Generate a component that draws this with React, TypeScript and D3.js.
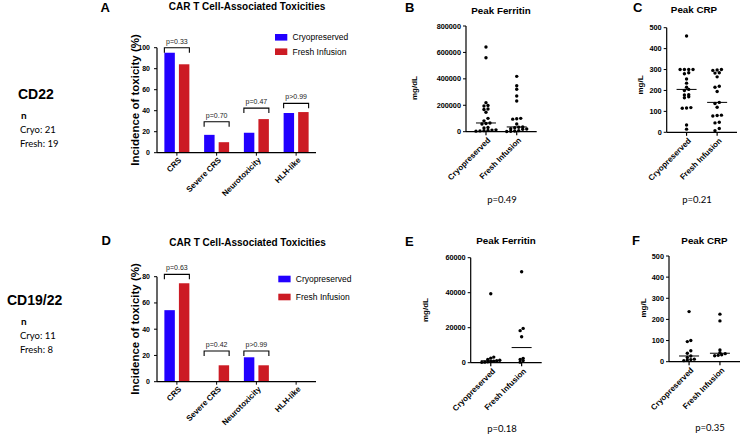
import React from "react";
import * as d3 from "d3";

const FONT = "'Liberation Sans', Arial, sans-serif";
const FONT2 = "Lato, 'Open Sans', sans-serif";
const BLUE = "#2200ff";
const RED = "#cc1b24";

// ---------- data ----------
const toxCategories = ["CRS", "Severe CRS", "Neurotoxicity", "HLH-like"];
const groupNames = ["Cryopreserved", "Fresh Infusion"];

const cd22ToxCryo = [95.2, 17, 19, 37.8];
const cd22ToxFresh = [84.2, 10, 32, 38.7];
const cd22PLabels = ["p=0.33", "p=0.70", "p=0.47", "p>0.99"];
const cd22PLevels = [100, 29.5, 42.5, 47];

const cd1922ToxCryo = [54.5, 0, 18.6, 0];
const cd1922ToxFresh = [75, 12.5, 12.5, 0];
const cd1922PLabels = ["p=0.63", "p=0.42", "p>0.99", ""];
const cd1922PLevels = [81.8, 23.4, 23.4, NaN];

const cd22FerritinCryo = [641000, 560000, 220000, 198000, 195000, 172000, 168000, 147000, 101000, 82000, 66000, 62000, 58000, 32000, 28000, 14000, 12000, 10000, 8000, 6000, 4000];
const cd22FerritinFresh = [419000, 348000, 321000, 270000, 232000, 101000, 98000, 95000, 58000, 36000, 34000, 30000, 22000, 20000, 18000, 8000, 5000, 3000, 2000];
const cd22CrpCryo = [460, 300, 300, 300, 300, 285, 280, 255, 235, 215, 205, 200, 180, 178, 170, 165, 118, 116, 115, 35, 15];
const cd22CrpFresh = [300, 298, 296, 285, 283, 265, 220, 215, 195, 143, 138, 120, 82, 80, 78, 48, 45, 18, 8];

const cd1922FerritinCryo = [39400, 3200, 2600, 1800, 1400, 1100, 900, 700, 500, 300, 200];
const cd1922FerritinFresh = [52000, 19600, 18300, 14800, 2500, 1800, 1200, 300];
const cd1922CrpCryo = [237, 100, 95, 52, 40, 27, 20, 12, 10, 8, 5];
const cd1922CrpFresh = [225, 193, 55, 42, 38, 33, 30, 28];

const pCd22 = ["p=0.49", "p=0.21"];
const pCd1922 = ["p=0.18", "p=0.35"];

// ---------- layouts ----------
type BarCfg = {
  x0: number; x1: number; yTop: number; yBot: number; max: number; step: number;
  letter: string; letterPos: [number, number]; titlePos: [number, number];
  legendX: number; legendY: [number, number]; ylabelPos: [number, number];
};

type ScatCfg = {
  x0: number; x1: number; yTop: number; yBot: number; max: number; step: number;
  letter: string; letterPos: [number, number]; title: string; titlePos: [number, number];
  ylabel: string; ylabelPos: [number, number]; pPos: [number, number]; dotStep: number;
};

const layoutA: BarCfg = { x0: 157, x1: 316, yTop: 47.7, yBot: 152.7, max: 100, step: 20, letter: "A", letterPos: [100.5, 11.7], titlePos: [247, 10], legendX: 275, legendY: [37.3, 51.7], ylabelPos: [139, 100] };
const layoutD: BarCfg = { x0: 157, x1: 316, yTop: 276.7, yBot: 381.7, max: 80, step: 20, letter: "D", letterPos: [101.5, 245], titlePos: [247.5, 245.5], legendX: 278.3, legendY: [279, 297], ylabelPos: [139, 329] };

const layoutB: ScatCfg = { x0: 466, x1: 536.7, yTop: 26, yBot: 131.7, max: 800000, step: 200000, letter: "B", letterPos: [405, 11.7], title: "Peak Ferritin", titlePos: [501, 13.5], ylabel: "mg/dL", ylabelPos: [417, 88], pPos: [502, 203], dotStep: 4 };
const layoutC: ScatCfg = { x0: 666.7, x1: 737, yTop: 27.7, yBot: 132.3, max: 500, step: 100, letter: "C", letterPos: [633, 11.7], title: "Peak CRP", titlePos: [694, 13.3], ylabel: "mg/L", ylabelPos: [642.5, 85], pPos: [697, 203], dotStep: 4.3 };
const layoutE: ScatCfg = { x0: 470.7, x1: 541.7, yTop: 257.7, yBot: 362.7, max: 60000, step: 20000, letter: "E", letterPos: [405, 245.5], title: "Peak Ferritin", titlePos: [506, 244.3], ylabel: "mg/dL", ylabelPos: [428, 310], pPos: [502, 431.5], dotStep: 3 };
const layoutF: ScatCfg = { x0: 669, x1: 740, yTop: 256, yBot: 361.7, max: 500, step: 100, letter: "F", letterPos: [632, 245], title: "Peak CRP", titlePos: [704.5, 244], ylabel: "mg/L", ylabelPos: [646, 308], pPos: [710, 430.5], dotStep: 3.5 };

// ---------- helpers ----------
function swarm(values: number[], y: (v: number) => number, cx: number, step: number, thresh = 2.6) {
  const pts = values.map((v) => ({ v, py: y(v) })).sort((a, b) => b.py - a.py);
  const out: { v: number; py: number; px: number }[] = [];
  let group: { v: number; py: number }[] = [];
  const flush = () => {
    const k = group.length;
    group.forEach((p, i) => out.push({ ...p, px: cx + (i - (k - 1) / 2) * step }));
    group = [];
  };
  for (const p of pts) {
    if (group.length && Math.abs(p.py - group[0].py) > thresh) flush();
    group.push(p);
  }
  flush();
  return out;
}

function BarPanel({ cfg, cryo, fresh, pLabels, pLevels }: { cfg: BarCfg; cryo: number[]; fresh: number[]; pLabels: string[]; pLevels: number[] }) {
  const x = d3.scaleBand<string>().domain(toxCategories).range([cfg.x0, cfg.x1]);
  const sub = d3.scaleBand<string>().domain(groupNames).range([-12.5, 12.5]).paddingInner(0.28);
  const y = d3.scaleLinear().domain([0, cfg.max]).range([cfg.yBot, cfg.yTop]);
  const ticks = d3.range(0, cfg.max + 0.001, cfg.step);
  const series = [cryo, fresh];
  const colors = [BLUE, RED];
  return (
    <g>
      <text x={cfg.letterPos[0]} y={cfg.letterPos[1]} fontFamily={FONT} fontWeight="bold" fontSize={13}>{cfg.letter}</text>
      <text x={cfg.titlePos[0]} y={cfg.titlePos[1]} fontFamily={FONT} fontWeight="bold" fontSize={10} textAnchor="middle">CAR T Cell-Associated Toxicities</text>
      <text transform={`translate(${cfg.ylabelPos[0]},${cfg.ylabelPos[1]}) rotate(-90)`} fontFamily={FONT} fontWeight="bold" fontSize={11.5} textAnchor="middle">Incidence of toxicity (%)</text>
      {toxCategories.map((c, i) => {
        const cx = (x(c) as number) + x.bandwidth() / 2;
        return (
          <g key={c}>
            {series.map((s, gi) => s[i] > 0 ? (
              <rect key={gi} x={cx + (sub(groupNames[gi]) as number)} width={sub.bandwidth()} y={y(s[i])} height={cfg.yBot - y(s[i])} fill={colors[gi]} />
            ) : null)}
            {pLabels[i] ? (() => {
              const yb = y(pLevels[i]);
              const l = cx + (sub(groupNames[0]) as number);
              const r = cx + (sub(groupNames[1]) as number) + sub.bandwidth();
              return (
                <g>
                  <path d={`M${l},${yb + 5}V${yb}H${r}V${yb + 5}`} fill="none" stroke="#000" strokeWidth={1.1} />
                  <text x={(l + r) / 2} y={yb - 4} fontFamily={FONT} fontSize={7} fill="#222" textAnchor="middle">{pLabels[i]}</text>
                </g>
              );
            })() : null}
            <line x1={cx} x2={cx} y1={cfg.yBot} y2={cfg.yBot + 3} stroke="#000" strokeWidth={1} />
            <text transform={`translate(${cx + 3},${cfg.yBot + 6}) rotate(-45)`} dy="0.35em" fontFamily={FONT} fontWeight="bold" fontSize={8} textAnchor="end">{c}</text>
          </g>
        );
      })}
      <line x1={cfg.x0} x2={cfg.x0} y1={cfg.yTop} y2={cfg.yBot} stroke="#000" strokeWidth={1.2} />
      <line x1={cfg.x0} x2={cfg.x1} y1={cfg.yBot} y2={cfg.yBot} stroke="#000" strokeWidth={1.2} />
      {ticks.map((t) => (
        <g key={t}>
          <line x1={cfg.x0 - 3} x2={cfg.x0} y1={y(t)} y2={y(t)} stroke="#000" strokeWidth={1} />
          <text x={cfg.x0 - 7} y={y(t)} dy="0.35em" fontFamily={FONT} fontWeight="bold" fontSize={7} textAnchor="end">{t}</text>
        </g>
      ))}
      {groupNames.map((g, gi) => (
        <g key={g}>
          <rect x={cfg.legendX} y={cfg.legendY[gi] - 3.3} width={12.3} height={6.6} fill={colors[gi]} />
          <text x={cfg.legendX + 17.5} y={cfg.legendY[gi]} dy="0.35em" fontFamily={FONT} fontSize={8.5}>{g}</text>
        </g>
      ))}
    </g>
  );
}

function ScatterPanel({ cfg, cryo, fresh, pText }: { cfg: ScatCfg; cryo: number[]; fresh: number[]; pText: string }) {
  const x = d3.scalePoint<string>().domain(groupNames).range([cfg.x0, cfg.x1]).padding(0.65);
  const y = d3.scaleLinear().domain([0, cfg.max]).range([cfg.yBot, cfg.yTop]);
  const ticks = d3.range(0, cfg.max + 0.001, cfg.step);
  const series = [cryo, fresh];
  return (
    <g>
      <text x={cfg.letterPos[0]} y={cfg.letterPos[1]} fontFamily={FONT} fontWeight="bold" fontSize={13}>{cfg.letter}</text>
      <text x={cfg.titlePos[0]} y={cfg.titlePos[1]} fontFamily={FONT} fontWeight="bold" fontSize={9.8} textAnchor="middle">{cfg.title}</text>
      <text transform={`translate(${cfg.ylabelPos[0]},${cfg.ylabelPos[1]}) rotate(-90)`} fontFamily={FONT} fontWeight="bold" fontSize={8} textAnchor="middle">{cfg.ylabel}</text>
      <line x1={cfg.x0} x2={cfg.x0} y1={cfg.yTop} y2={cfg.yBot} stroke="#000" strokeWidth={1.2} />
      <line x1={cfg.x0} x2={cfg.x1} y1={cfg.yBot} y2={cfg.yBot} stroke="#000" strokeWidth={1.2} />
      {ticks.map((t) => (
        <g key={t}>
          <line x1={cfg.x0 - 3} x2={cfg.x0} y1={y(t)} y2={y(t)} stroke="#000" strokeWidth={1} />
          <text x={cfg.x0 - 5} y={y(t)} dy="0.35em" fontFamily={FONT} fontWeight="bold" fontSize={7.3} textAnchor="end">{t}</text>
        </g>
      ))}
      {groupNames.map((g, gi) => {
        const cx = x(g) as number;
        const pts = swarm(series[gi], y, cx, cfg.dotStep);
        const med = d3.median(series[gi]) as number;
        return (
          <g key={g}>
            <line x1={cx} x2={cx} y1={cfg.yBot} y2={cfg.yBot + 3.5} stroke="#000" strokeWidth={1.2} />
            {pts.map((p, i) => <circle key={i} cx={p.px} cy={p.py} r={1.7} fill="#000" />)}
            <line x1={cx - 10} x2={cx + 10} y1={y(med)} y2={y(med)} stroke="#000" strokeWidth={1} />
            <text transform={`translate(${cx + 3},${cfg.yBot + 7}) rotate(-45)`} dy="0.35em" fontFamily={FONT} fontWeight="bold" fontSize={8} textAnchor="end">{g}</text>
          </g>
        );
      })}
      <text x={cfg.pPos[0]} y={cfg.pPos[1]} fontFamily={FONT2} fontSize={9.5} textAnchor="middle">{pText}</text>
    </g>
  );
}

function SideLabel({ title, x, y, cryoN, freshN }: { title: string; x: number; y: number; cryoN: number; freshN: number }) {
  return (
    <g>
      <text x={x} y={y} fontFamily={FONT} fontWeight="bold" fontSize={14}>{title}</text>
      <text x={21} y={y + 20} fontFamily={FONT2} fontWeight="bold" fontSize={10}>n</text>
      <text x={20} y={y + 34} fontFamily={FONT2} fontSize={9.5}>{`Cryo: ${cryoN}`}</text>
      <text x={20} y={y + 48} fontFamily={FONT2} fontSize={9.5}>{`Fresh: ${freshN}`}</text>
    </g>
  );
}

export default function App() {
  return (
    <svg width={740} height={435} style={{ position: "absolute", left: 0, top: 0, background: "#fff" }}>
      <rect width={740} height={435} fill="#fff" />
      <SideLabel title="CD22" x={18} y={99} cryoN={cd22FerritinCryo.length} freshN={cd22FerritinFresh.length} />
      <SideLabel title="CD19/22" x={7} y={305} cryoN={cd1922FerritinCryo.length} freshN={cd1922FerritinFresh.length} />
      <BarPanel cfg={layoutA} cryo={cd22ToxCryo} fresh={cd22ToxFresh} pLabels={cd22PLabels} pLevels={cd22PLevels} />
      <BarPanel cfg={layoutD} cryo={cd1922ToxCryo} fresh={cd1922ToxFresh} pLabels={cd1922PLabels} pLevels={cd1922PLevels} />
      <ScatterPanel cfg={layoutB} cryo={cd22FerritinCryo} fresh={cd22FerritinFresh} pText={pCd22[0]} />
      <ScatterPanel cfg={layoutC} cryo={cd22CrpCryo} fresh={cd22CrpFresh} pText={pCd22[1]} />
      <ScatterPanel cfg={layoutE} cryo={cd1922FerritinCryo} fresh={cd1922FerritinFresh} pText={pCd1922[0]} />
      <ScatterPanel cfg={layoutF} cryo={cd1922CrpCryo} fresh={cd1922CrpFresh} pText={pCd1922[1]} />
    </svg>
  );
}
